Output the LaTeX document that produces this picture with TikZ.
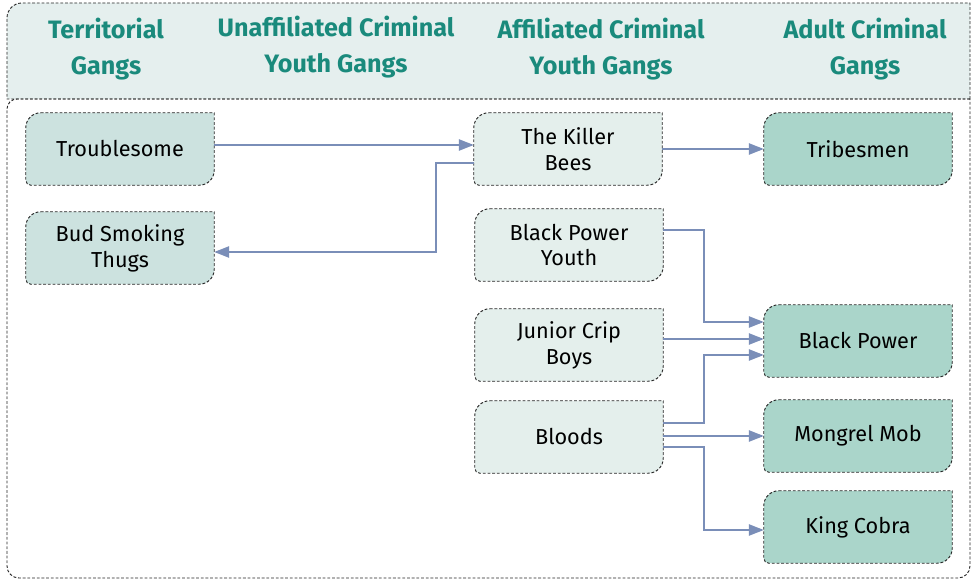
\documentclass[tikz,border=0pt]{standalone}
\usepackage{fontspec}
\setmainfont{Fira Sans}
\usetikzlibrary{arrows.meta, backgrounds}

\definecolor{headfill}{HTML}{E5EFEE}
\definecolor{headtext}{HTML}{1A8A7C}
\definecolor{terrfill}{HTML}{CCE2DF}
\definecolor{affilfill}{HTML}{E4EFEC}
\definecolor{adultfill}{HTML}{AAD5CA}
\definecolor{linkcolor}{HTML}{7A8EB8}

\tikzset{
    frame/.style={draw=black!85, line width=0.8pt, dash pattern=on 2.4pt off 1.6pt},
    gang/.style={minimum width=5.64cm, minimum height=2.16cm, inner sep=0pt,
        align=center, font=\fontsize{18.5}{22}\selectfont},
    heading/.style={align=center, text=headtext, font=\bfseries\fontsize{21.5}{30.5}\selectfont},
    link/.style={draw=linkcolor, line width=1.5pt,
        -{Triangle[length=0.45cm, width=0.34cm]}},
}

\newcommand{\gangshape}[2]{%
    \filldraw[frame, fill=#2] ([xshift=0.45cm]#1.north west) -- (#1.north east)
        -- ([yshift=0.45cm]#1.south east) arc [start angle=0, end angle=-90, radius=0.45cm]
        -- ([xshift=0.15cm]#1.south west) arc [start angle=270, end angle=180, radius=0.15cm]
        -- ([yshift=-0.45cm]#1.north west) arc [start angle=180, end angle=90, radius=0.45cm]
        -- cycle;}

\begin{document}
\begin{tikzpicture}[x=0.03cm, y=0.03cm]
        \pgfmathsetmacro{\leftX}{7}
        \pgfmathsetmacro{\rightX}{970}
        \pgfmathsetmacro{\bottomY}{3}
        \pgfmathsetmacro{\splitY}{482}
        \pgfmathsetmacro{\topY}{578}
        \pgfmathsetmacro{\headY}{532}

        \useasboundingbox (0, 0) rectangle (978, 581);

        \filldraw[frame, fill=headfill] (\rightX, \splitY) -- (\rightX, \topY)
            -- (\leftX+15, \topY) arc [start angle=90, end angle=180, radius=0.45cm]
            -- (\leftX, \splitY) -- cycle;
        \draw[frame] (\rightX, \splitY) -- (\leftX+10, \splitY)
            arc [start angle=90, end angle=180, radius=0.3cm]
            -- (\leftX, \bottomY+12) arc [start angle=180, end angle=270, radius=0.36cm]
            -- (\rightX-12, \bottomY) arc [start angle=270, end angle=360, radius=0.36cm]
            -- cycle;

        \node[heading] (hterr) at (106, \headY) {Territorial\\Gangs};
        \node[heading] (hunaff) at (336, \headY+2) {Unaffiliated Criminal\\Youth Gangs};
        \node[heading] (haffil) at (601, \headY) {Affiliated Criminal\\Youth Gangs};
        \node[heading] (hadult) at (865, \headY) {Adult Criminal\\Gangs};

        \node[gang] (trouble) at (120, 432) {Troublesome};
        \node[gang] (bud) at (120, 333) {Bud Smoking\\Thugs};
        \node[gang] (bees) at (568, 432) {The Killer\\Bees};
        \node[gang] (bpyouth) at (569, 336) {Black Power\\Youth};
        \node[gang] (crip) at (569, 236) {Junior Crip\\Boys};
        \node[gang] (bloods) at (569, 144) {Bloods};
        \node[gang] (tribes) at (858, 432) {Tribesmen};
        \node[gang] (bpower) at (858, 240) {Black Power};
        \node[gang] (mongrel) at (858, 145) {Mongrel Mob};
        \node[gang] (cobra) at (858, 54) {King Cobra};

        \begin{pgfonlayer}{background}
            \foreach \g in {trouble, bud} {\gangshape{\g}{terrfill}}
            \foreach \g in {bees, bpyouth, crip, bloods} {\gangshape{\g}{affilfill}}
            \foreach \g in {tribes, bpower, mongrel, cobra} {\gangshape{\g}{adultfill}}
        \end{pgfonlayer}

        \draw[link] ([yshift=0.12cm]trouble.east) -- ([yshift=0.12cm]trouble.east -| bees.west);
        \draw[link] ([yshift=-0.42cm]bees.west) -- ++(-38, 0)
            |- ([yshift=-0.12cm]bud.east);
        \draw[link] (bees.east) -- (bees.east -| tribes.west);

        \draw[link] ([yshift=0.45cm]bpyouth.east) -- ++(41, 0)
            |- ([yshift=0.57cm]bpower.west);
        \draw[link] ([yshift=0.18cm]crip.east) -- ([yshift=0.18cm]crip.east -| bpower.west);
        \draw[link] ([yshift=0.42cm]bloods.east) -- ++(41, 0)
            |- ([yshift=-0.42cm]bpower.west);
        \draw[link] ([yshift=0.03cm]bloods.east) -- ([yshift=0.03cm]bloods.east -| mongrel.west);
        \draw[link] ([yshift=-0.3cm]bloods.east) -- ++(41, 0)
            |- ([yshift=-0.09cm]cobra.west);
    \end{tikzpicture}
\end{document}
